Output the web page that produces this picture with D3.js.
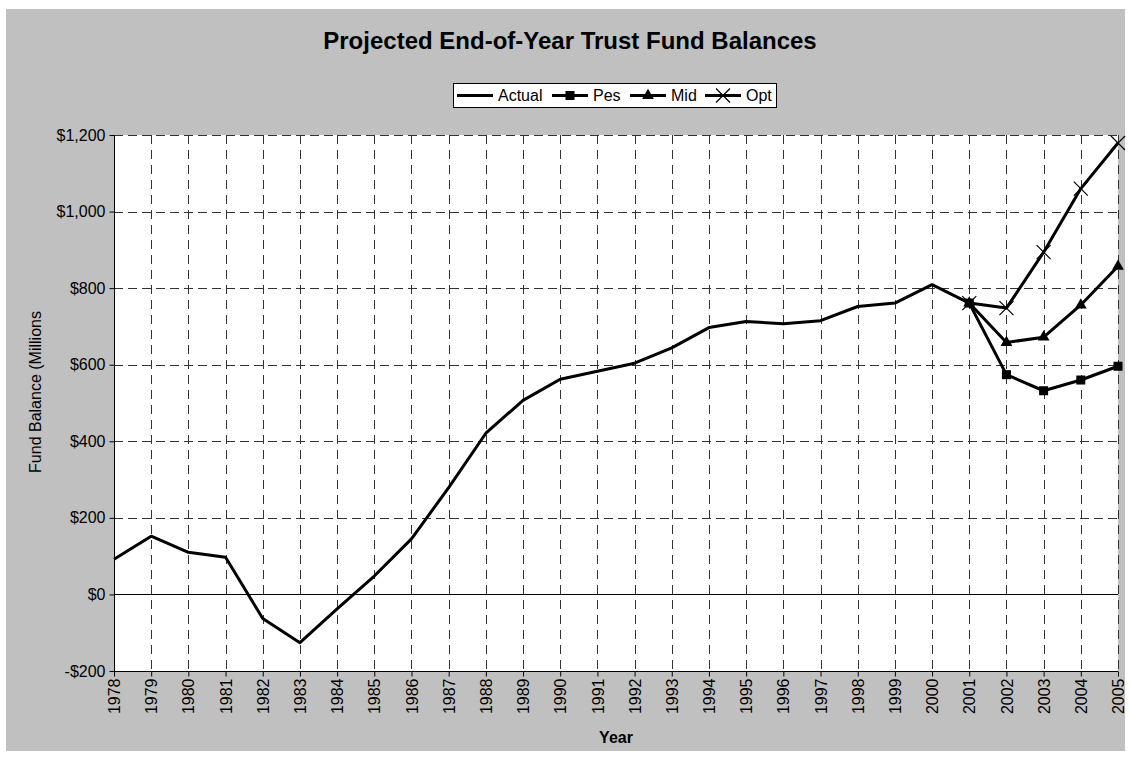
<!DOCTYPE html>
<html>
<head>
<meta charset="utf-8">
<script src="https://cdn.jsdelivr.net/npm/d3@7"></script>
<style>
body { margin: 0; background: #fff; }
text { font-family: Arial, "Liberation Sans", sans-serif; }
</style>
</head>
<body>
<div id="chart"></div>
<script>
//Width and height
var w = 1130;
var h = 757;

//Plot area
var plotL = 114, plotR = 1118, plotT = 135, plotB = 671;

//Categories
var years = [1978,1979,1980,1981,1982,1983,1984,1985,1986,1987,1988,1989,1990,
  1991,1992,1993,1994,1995,1996,1997,1998,1999,2000,2001,2002,2003,2004,2005];
var actualYears = years.slice(0, 24);
var projYears = [2001,2002,2003,2004,2005];

//Series values ($ millions)
var actual = [92,152,110,97,-63,-126,-38,48,145,279,421,507,562,583,604,644,697,713,707,715,752,761,809,761];
var pes = [761,574,532,560,596];
var mid = [761,658,672,756,857];
var opt = [761,748,894,1060,1179];

//Y ticks
var yTicks = [-200,0,200,400,600,800,1000,1200];

var svg = d3.select("#chart").append("svg")
  .attr("width", w)
  .attr("height", h);

//Gray chart background
svg.append("rect")
  .attr("x", 6).attr("y", 9)
  .attr("width", 1119).attr("height", 742)
  .attr("fill", "#c0c0c0");

//Scales
var xScale = d3.scalePoint().domain(years).range([plotL, plotR]);
var yScale = d3.scaleLinear().domain([-200, 1200]).range([plotB, plotT]);

//Plot area
svg.append("rect")
  .attr("x", plotL).attr("y", plotT)
  .attr("width", plotR - plotL).attr("height", plotB - plotT)
  .attr("fill", "#fff");

//Gridlines
svg.append("g")
  .selectAll("line")
  .data(yTicks.filter(function(d) { return d !== 0 && d !== -200; }))
  .enter().append("line")
  .attr("x1", plotL).attr("x2", plotR)
  .attr("y1", function(d) { return Math.round(yScale(d)) + 0.5; })
  .attr("y2", function(d) { return Math.round(yScale(d)) + 0.5; })
  .attr("stroke", "#333")
  .attr("stroke-dasharray", "9,5");

svg.append("g")
  .selectAll("line")
  .data(years.slice(1))
  .enter().append("line")
  .attr("x1", function(d) { return Math.round(xScale(d)) + 0.5; })
  .attr("x2", function(d) { return Math.round(xScale(d)) + 0.5; })
  .attr("y1", plotT).attr("y2", plotB)
  .attr("stroke", "#333")
  .attr("stroke-dasharray", "9,6");

//Zero line
svg.append("line")
  .attr("x1", plotL).attr("x2", plotR)
  .attr("y1", Math.round(yScale(0)) + 0.5).attr("y2", Math.round(yScale(0)) + 0.5)
  .attr("stroke", "#000");

//Axes
var yAxis = d3.axisLeft(yScale)
  .tickValues(yTicks)
  .tickSize(5)
  .tickPadding(4)
  .tickFormat(function(d) { return d < 0 ? "-$" + d3.format(",")(-d) : "$" + d3.format(",")(d); });

svg.append("g")
  .attr("class", "y axis")
  .attr("transform", "translate(" + (plotL + 0.5) + ",0)")
  .call(yAxis)
  .call(function(g) { g.select(".domain").attr("d", "M0," + plotT + "V" + plotB); });

var xAxis = d3.axisBottom(xScale).tickSize(5).tickPadding(6);

svg.append("g")
  .attr("class", "x axis")
  .attr("transform", "translate(0," + (plotB + 0.5) + ")")
  .call(xAxis)
  .call(function(g) { g.select(".domain").attr("d", "M" + plotL + ",0H" + plotR); })
  .selectAll("text")
  .attr("transform", "rotate(-90)")
  .attr("text-anchor", "end")
  .attr("x", -7).attr("y", 0)
  .attr("dy", "0.35em");

svg.selectAll(".axis text").attr("font-size", 16).attr("fill", "#000")
  .style("font-family", "Arial, 'Liberation Sans', sans-serif");
svg.selectAll(".axis path, .axis line").attr("stroke", "#000");

//Lines
var line = d3.line()
  .x(function(d) { return xScale(d[0]); })
  .y(function(d) { return yScale(d[1]); });

function pairs(xs, vs) { return xs.map(function(x, i) { return [x, vs[i]]; }); }

[opt, mid, pes, actual].forEach(function(s) {
  var xs = s === actual ? actualYears : projYears;
  svg.append("path")
    .datum(pairs(xs, s))
    .attr("d", line)
    .attr("fill", "none")
    .attr("stroke", "#000")
    .attr("stroke-width", 3)
    .attr("stroke-linejoin", "round");
});

//Markers
svg.append("g").selectAll("rect")
  .data(pairs(projYears, pes))
  .enter().append("rect")
  .attr("x", function(d) { return xScale(d[0]) - 4.5; })
  .attr("y", function(d) { return yScale(d[1]) - 4.5; })
  .attr("width", 9).attr("height", 9)
  .attr("fill", "#000");

var tri = d3.symbol().type(d3.symbolTriangle).size(60);
svg.append("g").selectAll("path")
  .data(pairs(projYears, mid))
  .enter().append("path")
  .attr("transform", function(d) { return "translate(" + xScale(d[0]) + "," + yScale(d[1]) + ")"; })
  .attr("d", tri)
  .attr("fill", "#000");

svg.append("g").selectAll("path")
  .data(pairs(projYears, opt))
  .enter().append("path")
  .attr("transform", function(d) { return "translate(" + xScale(d[0]) + "," + yScale(d[1]) + ")"; })
  .attr("d", "M-7,-7L7,7M-7,7L7,-7")
  .attr("stroke", "#000")
  .attr("stroke-width", 1.2);

//Title
svg.append("text")
  .attr("x", 570).attr("y", 49)
  .attr("text-anchor", "middle")
  .attr("font-size", 24)
  .attr("font-weight", "bold")
  .text("Projected End-of-Year Trust Fund Balances");

//Axis titles
svg.append("text")
  .attr("x", 616).attr("y", 743)
  .attr("text-anchor", "middle")
  .attr("font-size", 16)
  .attr("font-weight", "bold")
  .text("Year");

svg.append("text")
  .attr("transform", "translate(41,392) rotate(-90)")
  .attr("text-anchor", "middle")
  .attr("font-size", 16)
  .text("Fund Balance (Millions");

//Legend
var legend = svg.append("g");
legend.append("rect")
  .attr("x", 453.5).attr("y", 83.5)
  .attr("width", 323).attr("height", 24)
  .attr("fill", "#fff").attr("stroke", "#000");

var legendItems = [
  { name: "Actual", x: 457, mark: "none" },
  { name: "Pes", x: 552, mark: "square" },
  { name: "Mid", x: 630, mark: "triangle" },
  { name: "Opt", x: 705, mark: "cross" }
];

legendItems.forEach(function(d) {
  var cy = 95.5, cx = d.x + 18;
  legend.append("line")
    .attr("x1", d.x).attr("x2", d.x + 36)
    .attr("y1", cy).attr("y2", cy)
    .attr("stroke", "#000").attr("stroke-width", 3);
  if (d.mark === "square") {
    legend.append("rect").attr("x", cx - 4.5).attr("y", cy - 4.5)
      .attr("width", 9).attr("height", 9).attr("fill", "#000");
  } else if (d.mark === "triangle") {
    legend.append("path").attr("transform", "translate(" + cx + "," + cy + ")")
      .attr("d", tri).attr("fill", "#000");
  } else if (d.mark === "cross") {
    legend.append("path").attr("transform", "translate(" + cx + "," + cy + ")")
      .attr("d", "M-7,-7L7,7M-7,7L7,-7")
      .attr("stroke", "#000").attr("stroke-width", 1.2);
  }
  legend.append("text")
    .attr("x", d.x + 41).attr("y", cy)
    .attr("dy", "0.35em")
    .attr("font-size", 16)
    .text(d.name);
});
</script>
</body>
</html>
